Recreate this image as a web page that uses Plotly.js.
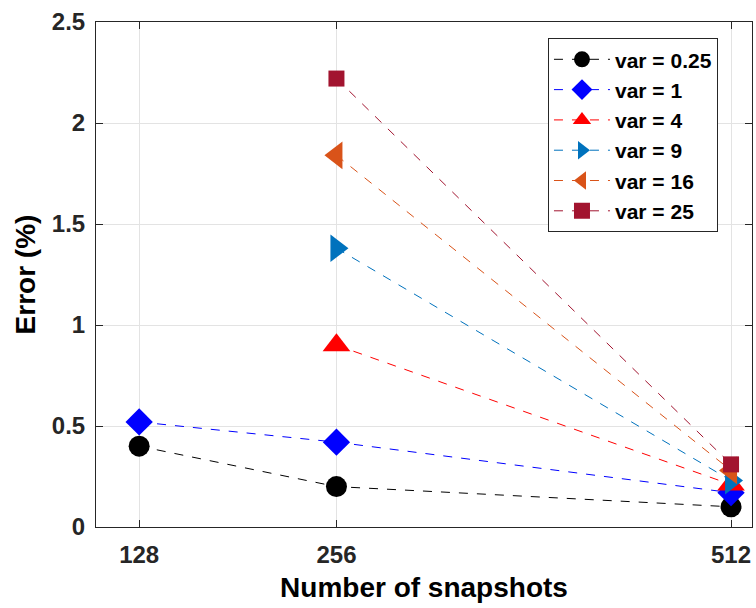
<!DOCTYPE html>
<html>
<head>
<meta charset="utf-8">
<script src="https://cdn.plot.ly/plotly-3.0.1.min.js"></script>
<style>html,body{margin:0;padding:0;background:#fff;}#chart{width:756px;height:608px;}</style>
</head>
<body>
<div id="chart"></div>
<script>
const snapshots = [128, 256, 512];
const names = ["var = 0.25", "var = 1", "var = 4", "var = 9", "var = 16", "var = 25"];
const err_025 = [0.40, 0.20, 0.10];
const err_1 = [0.52, 0.42, 0.17];
const err_4 = [null, 0.90, 0.21];
const err_9 = [null, 1.38, 0.23];
const err_16 = [null, 1.84, 0.28];
const err_25 = [null, 2.22, 0.31];
const colors = ["#000000", "#0000FF", "#FF0000", "#0072BD", "#D95319", "#A2142F"];
const symbols = ["circle", "diamond", "triangle-up", "triangle-right", "triangle-left", "square"];
const sizes = [21, 21, 24, 24, 24, 16];
const series = [err_025, err_1, err_4, err_9, err_16, err_25];

const traces = series.map((ys, i) => ({
  x: snapshots, y: ys, name: names[i], type: "scatter", mode: "lines+markers",
  connectgaps: false,
  line: {color: colors[i], width: 1, dash: "dash"},
  marker: {color: colors[i], symbol: symbols[i], size: sizes[i], line: {width: 0}}
}));

const FAM = "Liberation Sans, Arial, sans-serif";
const axisFont = {family: FAM, size: 24, color: "#262626", weight: "bold"};
const titleFont = {family: FAM, size: 28, color: "#000", weight: "bold"};
const layout = {
  width: 756, height: 608,
  margin: {l: 96, r: 4, t: 22, b: 81},
  paper_bgcolor: "#fff", plot_bgcolor: "#fff",
  showlegend: true,
  font: {family: FAM, color: "#000"},
  xaxis: {
    range: [100, 525.6], tickvals: snapshots, ticktext: ["128", "256", "512"],
    showgrid: true, gridcolor: "#e3e3e3", zeroline: false,
    showline: true, linecolor: "#262626", linewidth: 1, mirror: "ticks",
    ticks: "inside", ticklen: 7, tickcolor: "#262626",
    tickfont: axisFont, ticklabelstandoff: 6,
    title: {text: "Number of snapshots", font: titleFont, standoff: 10}
  },
  yaxis: {
    range: [0, 2.5], tickvals: [0, 0.5, 1, 1.5, 2, 2.5], ticktext: ["0", "0.5", "1", "1.5", "2", "2.5"],
    showgrid: true, gridcolor: "#e3e3e3", zeroline: false,
    showline: true, linecolor: "#262626", linewidth: 1, mirror: "ticks",
    ticks: "inside", ticklen: 7, tickcolor: "#262626",
    tickfont: axisFont, ticklabelstandoff: 5,
    title: {text: "Error (%)", font: titleFont, standoff: 8}
  },
  legend: {
    x: 0.689, y: 0.968, xanchor: "left", yanchor: "top",
    bgcolor: "#fff", bordercolor: "#262626", borderwidth: 1,
    font: {family: FAM, size: 21, color: "#000", weight: "bold"},
    tracegroupgap: 0, itemsizing: "trace", itemwidth: 56
  }
};
Plotly.newPlot("chart", traces, layout, {displayModeBar: false, staticPlot: true});
</script>
</body>
</html>
